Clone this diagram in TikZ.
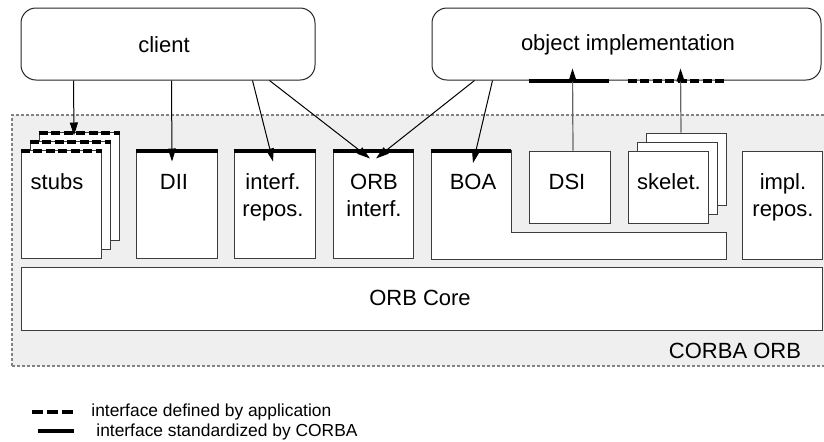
\documentclass[tikz,border=0pt]{standalone}
\usepackage{fontspec}
\setmainfont{Liberation Sans}
\usetikzlibrary{arrows.meta,fit,calc}
\definecolor{orbbg}{RGB}{239,239,239}
\definecolor{edge}{RGB}{60,60,60}
\definecolor{frame}{RGB}{130,130,130}
\begin{document}
\begin{tikzpicture}[x=0.5pt,y=-0.5pt,
  box/.style={draw=edge, fill=white, line width=0.5pt, inner sep=0pt},
  oval/.style={draw=black!85, fill=white, rounded corners=7.5pt, line width=0.5pt, inner sep=0pt},
  lbl/.style={font=\fontsize{11}{13.5}\selectfont, inner sep=0pt, align=center},
  leg/.style={font=\fontsize{8.7}{10}\selectfont, inner sep=0pt, anchor=west},
  stdbar/.style={line width=2pt},
  appbar/.style={line width=2pt, dash pattern=on 4.5pt off 1.75pt},
  arr/.style={line width=0.5pt, -{Triangle[length=6.5pt,width=4pt]}},
  garr/.style={draw=black!60, line width=0.6pt, -{Triangle[length=6.5pt,width=4pt,color=black]}},
]
\useasboundingbox (0,0) rectangle (824,441);
\fill[white] (0,0) rectangle (824,441);

% the ORB area
\node[draw=frame, dash pattern=on 1.5pt off 1pt, line width=0.6pt, fill=orbbg,
      inner sep=0pt, fit={(12,115) (840,366)}] (orb) {};
\node[lbl, anchor=base] (orblbl) at (735,358) {CORBA ORB};

% client and object implementation
\node[oval, fit={(21,8) (315,80)}] (client) {};
\node[lbl] (clientlbl) at (164,45) {client};
\node[oval, fit={(432,8) (821,80)}] (impl) {};
\node[lbl] (impllbl) at (628,45) {object implementation};

% stubs: a stack of three pages
\foreach \d/\n in {18/s3, 9/s2, 0/s1} {
  \node[box, fit={(21+\d,150-\d) (101+\d,258-\d)}] (\n) {};
  \draw[appbar] ([yshift=-0.5pt]\n.north west) -- ([yshift=-0.5pt]\n.north east);
}
\node[lbl, anchor=base] (stubslbl) at (57,189) {stubs};

% DII
\node[box, fit={(136,150) (217,258)}] (dii) {};
\draw[stdbar] ([yshift=-0.5pt]dii.north west) -- ([yshift=-0.5pt]dii.north east);
\node[lbl, anchor=base] (diilbl) at (174,189) {DII};

% interface repository (base anchor sits on the last line)
\node[box, fit={(234,150) (315,258)}] (irep) {};
\draw[stdbar] ([yshift=-0.5pt]irep.north west) -- ([yshift=-0.5pt]irep.north east);
\node[lbl, anchor=base] (ireplbl) at (273,216) {interf.\\repos.};

% ORB interface
\node[box, fit={(333,150) (413,258)}] (orbi) {};
\draw[stdbar] ([yshift=-0.5pt]orbi.north west) -- ([yshift=-0.5pt]orbi.north east);
\node[lbl, anchor=base] (orbilbl) at (374,216) {ORB\\interf.};

% BOA, reaching below DSI and the skeletons
\draw[box] (431,150) -- (511,150) -- (511,232) -- (726,232) -- (726,259) -- (431,259) -- cycle;
\coordinate (boa) at (471,150);
\draw[stdbar] ([yshift=-0.5pt]boa -| 431,0) -- ([yshift=-0.5pt]boa -| 511,0);
\node[lbl, anchor=base] (boalbl) at (473,189) {BOA};

% DSI
\node[box, fit={(529,151) (610,223)}] (dsi) {};
\node[lbl, anchor=base] (dsilbl) at (567,189) {DSI};

% skeletons: a stack of three pages
\foreach \d/\n in {18/k3, 9/k2, 0/k1} {
  \node[box, fit={(628+\d,151-\d) (708+\d,223-\d)}] (\n) {};
}
\node[lbl, anchor=base] (skellbl) at (669,189) {skelet.};

% implementation repository
\node[box, fit={(742,151) (822,259)}] (impr) {};
\node[lbl, anchor=base] (imprlbl) at (783,216) {impl.\\repos.};

% ORB core
\node[box, fit={(21,267) (822,330)}] (core) {};
\node[lbl] (corelbl) at (420,298) {ORB Core};

% interfaces of the object implementation
\draw[stdbar] ($(impl.south west)+(97,0)$) -- ($(impl.south west)+(177,0)$);
\draw[appbar] ($(impl.south west)+(196,0)$) -- ($(impl.south west)+(293,0)$);

% calls
\draw[arr] ($(client.south west)+(53,0)$) -- ($(s3.north)+(-5,4)$);
\draw[arr] ($(client.south west)+(151,0)$) -- ($(dii.north)+(-4.5,12)$);
\draw[arr] ($(client.south west)+(232,0)$) -- ($(irep.north)+(-1.5,12)$);
\draw[arr] ($(client.south west)+(249,0)$) -- ($(orbi.north)+(-3,9)$);
\draw[arr] ($(impl.south west)+(43,0)$) -- ($(orbi.north)+(3,9)$);
\draw[arr] ($(impl.south west)+(61,0)$) -- ($(boa)+(2,13)$);
\draw[garr] ($(dsi.north)+(3.5,0)$) -- ($(impl.south west)+(141,-12)$);
\draw[garr] ($(k3.north)+(-5,0)$) -- ($(impl.south west)+(249,-12)$);

% legend
\coordinate (la1) at (32,412);
\coordinate (la2) at (73,412);
\draw[line width=2pt, dash pattern=on 5.5pt off 2pt] (la1) -- (la2);
\node[leg] (lalbl) at (91,412) {interface defined by application};
\coordinate (lb1) at (38,431);
\coordinate (lb2) at (74,431);
\draw[stdbar] (lb1) -- (lb2);
\node[leg] (lblbl) at (96,432) {interface standardized by CORBA};
\end{tikzpicture}
\end{document}
